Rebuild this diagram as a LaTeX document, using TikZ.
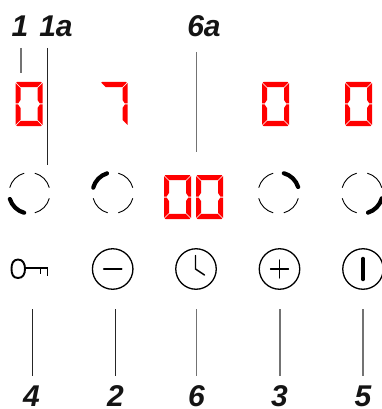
\documentclass[tikz,border=0pt]{standalone}
\usepackage{fontspec}
\setmainfont{Liberation Sans}
\definecolor{segred}{RGB}{255,0,0}
\newcommand{\segT}{\fill[segred] (1.5,0)--(25.5,0)--(26.2,.6)--(21.8,5.2)--(5.2,5.2)--(.8,.6)--cycle;}
\newcommand{\segB}{\fill[segred] (1.5,44)--(25.5,44)--(26.2,43.4)--(21.8,38.8)--(5.2,38.8)--(.8,43.4)--cycle;}
\newcommand{\segUL}{\fill[segred] (0,1.2)--(5,6)--(5,18)--(2.6,21.5)--(0,21.5)--cycle;}
\newcommand{\segLL}{\fill[segred] (0,42.8)--(5,38)--(5,26)--(2.6,22.5)--(0,22.5)--cycle;}
\newcommand{\segUR}{\fill[segred] (27,1.2)--(22,6)--(22,18)--(24.4,21.5)--(27,21.5)--cycle;}
\newcommand{\segLR}{\fill[segred] (27,42.8)--(22,38)--(22,26)--(24.4,22.5)--(27,22.5)--cycle;}
\newcommand{\digitzero}[2]{\begin{scope}[shift={(#1,#2)}]\segT\segB\segUL\segLL\segUR\segLR\end{scope}}
\newcommand{\digitseven}[2]{\begin{scope}[shift={(#1,#2)}]\segT\segUR\segLR\end{scope}}
% ring: x, y, start angle of the thick arc (angles run clockwise on the page, y points down)
\newcommand{\ring}[3]{%
 \foreach \a in {15,105,195,285}{\draw[thinarc] (#1,#2) ++(\a:20.5) arc[start angle=\a,end angle=\a+60,radius=20.5];}
 \draw[thickarc] (#1,#2) ++(#3:20.5) arc[start angle=#3,end angle=#3+58,radius=20.5];}
\tikzset{
 x=1pt,y=-1pt,
 thinarc/.style={draw=black,line width=.9pt},
 thickarc/.style={draw=black,line width=4.2pt,line cap=round},
 keybtn/.style={circle,draw=black,line width=1.3pt,minimum size=40.5pt,inner sep=0pt},
 leaderdark/.style={draw=black!85,line width=.9pt},
 leadergray/.style={draw=black!55,line width=1.1pt},
 numlabel/.style={font=\fontsize{30}{30}\selectfont\bfseries\itshape,text=black!92,inner sep=0pt,anchor=base},
 glyph/.style={draw=black,line cap=round},
}
\begin{document}
\begin{tikzpicture}
\useasboundingbox (0,0) rectangle (382,409);
% displays
\digitzero{15.5}{82}
\digitseven{100.5}{82}
\digitzero{262}{82}
\digitzero{345}{82}
\digitzero{164}{175}
\digitzero{196}{175}
% rings
\ring{29.5}{193}{105}
\ring{113}{193}{195}
\ring{278.5}{193}{285}
\ring{362}{193}{15}
% keys
\node[keybtn] (minus) at (112.7,269) {};
\node[keybtn] (clock) at (196,269) {};
\node[keybtn] (plus) at (279.5,269) {};
\node[keybtn] (power) at (363,269) {};
\draw[draw=black,line width=1.9pt,line join=miter] (25,268) -- (47.5,268) -- (47.5,275.5) (40.5,268) -- (40.5,274);
\draw[draw=black,line width=1.9pt] (18,259.5) .. controls (13,259.5) and (11.5,264) .. (11.5,268.8) .. controls (11.5,274) and (13,278) .. (18,278) .. controls (23,278) and (25,274) .. (25,268.8) .. controls (25,264) and (23,259.5) .. (18,259.5) -- cycle;
\draw[glyph,line width=1.6pt] (minus.center) ++(-9,0) -- ++(18,0);
\draw[glyph,line width=1.3pt] (plus.center) ++(-9,0) -- ++(18,0) (plus.center) ++(0,-9) -- ++(0,18);
\draw[glyph,line width=1.4pt] (clock.center) ++(-.5,-13.5) -- ++(0,13.5) -- ++(9,6);
\draw[glyph,line width=3.4pt] (power.center) ++(0,-10.5) -- ++(0,21);
% labels
\node[numlabel] (l1) at (20,37) {1};
\node[numlabel] (l1a) at (56,37) {1a};
\node[numlabel] (l6a) at (204,37) {6a};
\node[numlabel] (l4) at (31.5,406.5) {4};
\node[numlabel] (l2) at (115.5,406.5) {2};
\node[numlabel] (l6) at (196.5,406.5) {6};
\node[numlabel] (l3) at (279.5,406.5) {3};
\node[numlabel] (l5) at (363,406.5) {5};
% leaders
\coordinate (s1) at (21,48);
\coordinate (e1) at (21,73);
\coordinate (s1a) at (47.3,48);
\coordinate (e1a) at (47.3,165);
\coordinate (s6a) at (196.7,52);
\coordinate (e6a) at (196.7,152);
\draw[leadergray] (s1) -- (e1);
\draw[leaderdark] (s1a) -- (e1a);
\draw[leadergray] (s6a) -- (e6a);
\coordinate (t4) at (32.3,309); \coordinate (b4) at (32.3,376);
\coordinate (t2) at (115.7,309); \coordinate (b2) at (115.7,376);
\coordinate (t6) at (196.7,309); \coordinate (b6) at (196.7,376);
\coordinate (t3) at (280,309); \coordinate (b3) at (280,376);
\coordinate (t5) at (363,309); \coordinate (b5) at (363,376);
\draw[leaderdark] (t4) -- (b4);
\draw[leaderdark] (t2) -- (b2);
\draw[leadergray] (t6) -- (b6);
\draw[leadergray] (t3) -- (b3);
\draw[leadergray] (t5) -- (b5);
\end{tikzpicture}
\end{document}
